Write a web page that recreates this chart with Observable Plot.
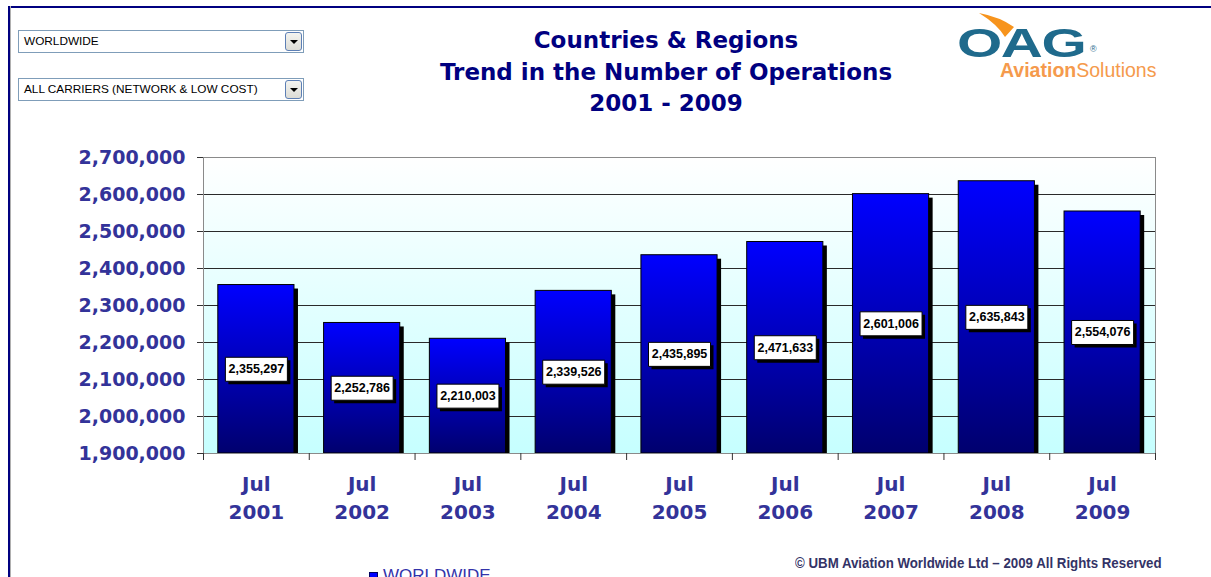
<!DOCTYPE html>
<html><head><meta charset="utf-8">
<script src="https://cdn.jsdelivr.net/npm/d3@7"></script>
<script src="https://cdn.jsdelivr.net/npm/@observablehq/plot@0.6"></script>
<style>
html,body{margin:0;padding:0;background:#fff;overflow:hidden;}
#page{position:relative;width:1211px;height:577px;overflow:hidden;background:#fff;}
#frameTop{position:absolute;left:8px;top:6px;right:0;height:2px;background:#000080;}
#frameLeft{position:absolute;left:8px;top:6px;width:2px;bottom:0;background:#000080;box-shadow:1px 0 0 #b0b0b0;}
.dd{position:absolute;left:18px;height:21px;border:1px solid #7f9db9;background:#fff;
  font-family:"Liberation Sans",Arial,sans-serif;font-size:11.8px;line-height:21px;color:#000;padding-left:5px;box-sizing:content-box;width:279px;white-space:nowrap;}
.dd .btn{position:absolute;right:1px;top:1px;width:15px;height:17px;border:1px solid #5d7fb5;border-radius:3px;
  background:linear-gradient(#f4f4f0,#dcdcd6);}
.dd .btn:after{content:"";position:absolute;left:4px;top:7px;border-left:4px solid transparent;border-right:4px solid transparent;border-top:4px solid #000;}
#title{position:absolute;left:366px;top:25px;width:600px;text-align:center;font-family:"DejaVu Sans",Verdana,sans-serif;
  font-weight:bold;font-size:23px;line-height:31.5px;color:#000080;}
#oag{position:absolute;left:957px;top:25px;font-family:"Liberation Sans",Arial,sans-serif;font-weight:bold;font-size:41px;
  color:#1f6a8c;transform:scaleX(1.42);transform-origin:left top;line-height:36px;letter-spacing:-1px;}
#reg{position:absolute;left:1090px;top:44px;font-family:"Liberation Sans",Arial,sans-serif;font-size:9px;line-height:10px;color:#1f6a8c;}
#avsol{position:absolute;left:1000px;top:61px;font-family:"Liberation Sans",Arial,sans-serif;font-size:19.5px;color:#f59a4c;line-height:18px;white-space:nowrap;}
#avsol b{font-weight:bold;}
#swoosh{position:absolute;left:0;top:0;}
#copy{position:absolute;left:795px;top:555px;font-family:"Liberation Sans",Arial,sans-serif;
  font-weight:bold;font-size:15px;line-height:16px;color:#333366;white-space:nowrap;transform:scaleX(0.885);transform-origin:left top;}
#legend{position:absolute;left:369px;top:566px;font-family:"Liberation Sans",Arial,sans-serif;
  font-size:17px;color:#3333aa;white-space:nowrap;}
#legend .sw{display:inline-block;width:7px;height:7px;background:#0000ff;border:1px solid #000060;margin-right:5px;vertical-align:0px;}
#chart{position:absolute;left:0;top:0;}
</style></head>
<body><div id="page">
<div id="chart"></div>
<div id="frameTop"></div><div id="frameLeft"></div>
<div class="dd" style="top:30px;">WORLDWIDE<div class="btn"></div></div>
<div class="dd" style="top:78px;">ALL CARRIERS (NETWORK &amp; LOW COST)<div class="btn"></div></div>
<div id="title">Countries &amp; Regions<br>Trend in the Number of Operations<br>2001 - 2009</div>
<svg id="swoosh" width="1211" height="60"><path d="M979,13 Q1000,17 1014,27 L1005,37 Q997,24 979,13 Z" fill="#f7941d"/></svg>
<div id="oag">OAG</div><div id="reg">®</div>
<div id="avsol"><b>Aviation</b>Solutions</div>
<div id="copy">© UBM Aviation Worldwide Ltd – 2009 All Rights Reserved</div>
<div id="legend"><span class="sw"></span><span class="lt">WORLDWIDE</span></div>
</div>
<script>
// ---- data ----
const years = ["2001", "2002", "2003", "2004", "2005", "2006", "2007", "2008", "2009"];
const monthLabel = "Jul";
const operations = [2355297, 2252786, 2210003, 2339526, 2435895, 2471633, 2601006, 2635843, 2554076];
const yTicks = [1900000, 2000000, 2100000, 2200000, 2300000, 2400000, 2500000, 2600000, 2700000];
const seriesName = "WORLDWIDE";

const data = years.map((y, i) => ({year: y, value: operations[i]}));
const yMin = yTicks[0], yMax = yTicks[yTicks.length - 1];
const fmt = d3.format(",");

const W = 1211, H = 577, mL = 203, mR = 56, mT = 157, mB = 124;
const step = (W - mL - mR) / years.length;

const boxSymbol = {draw(ctx) { ctx.moveTo(-31, -12); ctx.lineTo(31, -12); ctx.lineTo(31, 12); ctx.lineTo(-31, 12); ctx.closePath(); }};
const mid = d => (yMin + d.value) / 2;

const chart = Plot.plot({
  width: W, height: H, marginLeft: mL, marginRight: mR, marginTop: mT, marginBottom: mB,
  x: {domain: years, paddingInner: 0.28, paddingOuter: 0.14, align: 0.5, round: false, label: null},
  y: {domain: [yMin, yMax], label: null},
  style: {background: "transparent", fontFamily: "DejaVu Sans, Verdana, sans-serif", overflow: "visible"},
  marks: [
    Plot.frame({fill: "url(#bgGrad)", stroke: "none"}),
    Plot.ruleY(yTicks, {stroke: "#2a2a2a", strokeWidth: 1}),
    Plot.barY(data, {x: "year", y1: () => yMin, y2: "value", fill: "#000", dx: 4, dy: 4, clip: true}),
    Plot.barY(data, {x: "year", y1: () => yMin, y2: "value", fill: "url(#barGrad)", stroke: "#000", strokeWidth: 1}),
    Plot.dot(data, {x: "year", y: mid, symbol: boxSymbol, fill: "#000", dx: 3, dy: 3}),
    Plot.dot(data, {x: "year", y: mid, symbol: boxSymbol, fill: "#fff", stroke: "#000", strokeWidth: 1}),
    Plot.text(data, {x: "year", y: mid, text: d => fmt(d.value), fontSize: 12.5, fontWeight: "bold",
      fontFamily: "Liberation Sans, Arial, sans-serif", fill: "#000"}),
    Plot.frame({stroke: "#8a8a8a", fill: "none"}),
    Plot.axisY({ticks: yTicks, tickSize: 6, tickPadding: 12, tickFormat: fmt, fill: "#333399", stroke: "#333",
      fontSize: 19, fontWeight: "bold", fontFamily: "DejaVu Sans, Verdana, sans-serif"}),
    Plot.axisX({tickSize: 0, tickPadding: 18, tickFormat: d => monthLabel + "\n" + d, lineHeight: 1.4,
      fill: "#333399", fontSize: 20, fontWeight: "bold", fontFamily: "DejaVu Sans, Verdana, sans-serif"}),
    Plot.axisX({tickSize: 7, tickFormat: () => "", dx: step / 2, stroke: "#333"}),
    Plot.axisX({ticks: [years[0]], tickSize: 7, tickFormat: () => "", dx: -step / 2, stroke: "#333"})
  ]
});

const defs = d3.select(chart).insert("defs", ":first-child");
const bg = defs.append("linearGradient").attr("id", "bgGrad").attr("x1", 0).attr("y1", 0).attr("x2", 0).attr("y2", 1);
bg.append("stop").attr("offset", "0%").attr("stop-color", "#ffffff");
bg.append("stop").attr("offset", "100%").attr("stop-color", "#c6ffff");
const bar = defs.append("linearGradient").attr("id", "barGrad").attr("x1", 0).attr("y1", 0).attr("x2", 0).attr("y2", 1);
bar.append("stop").attr("offset", "0%").attr("stop-color", "#0000ff");
bar.append("stop").attr("offset", "100%").attr("stop-color", "#00006e");

document.getElementById("chart").appendChild(chart);
</script>
</body></html>
